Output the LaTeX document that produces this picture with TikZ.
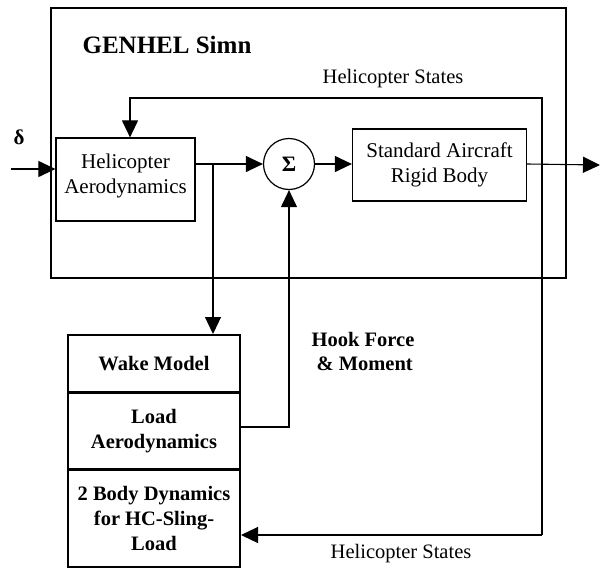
\documentclass[tikz,border=0pt]{standalone}
\usepackage{fontspec}
\setmainfont{Liberation Serif}
\usetikzlibrary{arrows.meta,calc}
\begin{document}
\begin{tikzpicture}[x=1pt,y=-1pt,
  line width=1.1pt,
  conn/.style={line width=1.1pt},
  arr/.style={conn,-{Triangle[length=17pt,width=16pt]}},
  blk/.style={draw,line width=1.2pt,inner sep=0pt,align=center,font=\fontsize{21}{25}\selectfont},
  lbox/.style={draw,line width=2pt,inner sep=0pt,align=center,minimum width=172pt,font=\bfseries\fontsize{20.5}{25}\selectfont},
  lbl/.style={inner sep=0pt,align=center,font=\fontsize{20.5}{25}\selectfont}]
\useasboundingbox (0,0) rectangle (601,570);
% outer GENHEL box
\node[draw,line width=1.3pt,minimum width=515pt,minimum height=270pt,inner sep=0pt] (genhel) at (308.5,143) {};
\node[lbl,font=\bfseries\fontsize{25}{28}\selectfont] (title) at (167,45) {GENHEL Simn};
% blocks
\node[blk,minimum width=139pt,minimum height=83pt] (heli) at (125.5,179.5) {Helicopter\\Aerodynamics\\[-13pt]};
\node[draw,circle,line width=1.2pt,minimum size=51pt,inner sep=0pt,font=\bfseries\fontsize{22}{24}\selectfont] (sum) at (289,164) {Σ};
\node[blk,minimum width=174pt,minimum height=72pt] (std) at (439.5,165) {Standard Aircraft\\Rigid Body};
\node[lbox,minimum height=57pt] (wake) at (154,363.5) {Wake Model};
\node[lbox,minimum height=76pt] (load) at (154,431) {Load\\Aerodynamics};
\node[lbox,minimum height=97pt] (body) at (154,518.5) {2 Body Dynamics\\for HC-Sling-\\Load};
% labels
\node[lbl,font=\bfseries\fontsize{21}{25}\selectfont] (delta) at (19,137) {δ};
\node[lbl] (hs1) at (393,79) {Helicopter States};
\node[lbl,font=\bfseries\fontsize{20.5}{24}\selectfont] (hook) at (363,351) {Hook Force\\\,\& Moment};
\node[lbl] (hs2) at (401,554) {Helicopter States};
% coordinates
\coordinate (in) at (11,169);
\coordinate (out) at (600,165);
\coordinate (br) at (213,164);
\coordinate (fbx) at (542,165);
\coordinate (fbtop) at (542,98);
\coordinate (fbbot) at (542,535);
% connectors
\draw[arr] (in) -- (in -| heli.west);
\draw[arr] (heli.east |- sum) -- (sum.west);
\draw[arr] (sum.east) -- (std.west |- sum);
\draw[arr] (std.east |- sum) -- (out);
\draw[arr] (fbbot) -- (fbtop) -| ([xshift=4.5pt]heli.north);
\draw[arr] (fbbot) -- (fbbot -| body.east);
\draw[arr] (br) -- (br |- wake.north);
\draw[arr] ([yshift=4pt]load.east) -| (sum.south);
\end{tikzpicture}
\end{document}
